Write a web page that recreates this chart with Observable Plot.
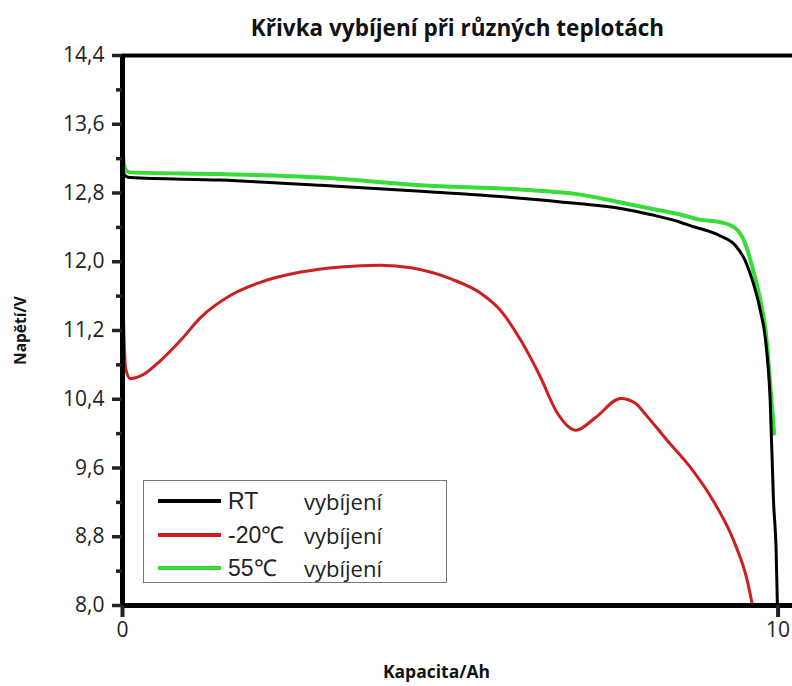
<!DOCTYPE html>
<html>
<head>
<meta charset="utf-8">
<script src="https://cdn.jsdelivr.net/npm/d3@7"></script>
<script src="https://cdn.jsdelivr.net/npm/@observablehq/plot@0.6"></script>
<style>
  html, body { margin: 0; padding: 0; background: white; }
  #wrap { position: relative; width: 792px; height: 686px; overflow: hidden; }
  .leg { position: absolute; left: 143px; top: 480px; width: 304px; height: 103px; border: 1px solid #777; background: white; box-sizing: border-box; }
  .lrow { position: absolute; left: 0; height: 30px; }
  .lline { position: absolute; left: 14px; width: 63px; height: 4px; top: 13px; }
  .lname { position: absolute; left: 84px; top: 0; font-family: "Liberation Sans", Arial, sans-serif; font-size: 23px; line-height: 30px; color: #222; white-space: nowrap; }
  .ltext { position: absolute; left: 160px; top: 0; font-family: "Open Sans", sans-serif; font-size: 22px; line-height: 30px; color: #222; white-space: nowrap; }
</style>
</head>
<body>
<div id="wrap"></div>
<script>
// ---- data ----
const capRT  = [0, 0.02, 0.06, 0.12, 1.49, 3.02, 4.55, 6.07, 6.91, 7.60, 8.05, 8.51, 8.66, 9.12, 9.35, 9.50, 9.61, 9.73, 9.81, 9.88, 9.93, 9.97, 9.99];
const voltRT = [13.12, 13.03, 12.99, 12.98, 12.95, 12.89, 12.82, 12.74, 12.68, 12.62, 12.55, 12.46, 12.42, 12.30, 12.19, 12.01, 11.78, 11.43, 11.08, 10.38, 9.22, 8.64, 8.0];

const capM20  = [0, 0.02, 0.05, 0.12, 0.3, 0.58, 0.88, 1.19, 1.65, 2.10, 2.72, 3.33, 3.94, 4.40, 5.01, 5.47, 5.77, 6.08, 6.38, 6.61, 6.92, 7.22, 7.60, 7.83, 7.95, 8.31, 8.66, 9.01, 9.32, 9.53, 9.61];
const voltM20 = [11.78, 11.2, 10.75, 10.64, 10.68, 10.85, 11.08, 11.35, 11.61, 11.76, 11.88, 11.94, 11.96, 11.93, 11.80, 11.63, 11.43, 11.08, 10.65, 10.27, 10.04, 10.19, 10.41, 10.35, 10.25, 9.92, 9.61, 9.22, 8.76, 8.29, 8.0];

const cap55  = [0, 0.02, 0.06, 0.12, 1.49, 3.02, 4.55, 6.07, 6.91, 7.60, 8.05, 8.51, 8.80, 9.12, 9.35, 9.50, 9.61, 9.73, 9.81, 9.88, 9.94];
const volt55 = [13.35, 13.15, 13.06, 13.04, 13.02, 12.98, 12.89, 12.84, 12.79, 12.69, 12.62, 12.55, 12.49, 12.46, 12.39, 12.21, 11.93, 11.55, 11.2, 10.58, 10.0];

const seriesNames = ["RT", "-20℃", "55℃"];
const seriesColors = ["#000000", "#cc1f1f", "#38dc38"];
const legendSuffix = "vybíjení";

const yMajor = [8.0, 8.8, 9.6, 10.4, 11.2, 12.0, 12.8, 13.6, 14.4];
const yMinor = [8.4, 9.2, 10.0, 10.8, 11.6, 12.4, 13.2, 14.0];
const xTicks = [0, 10];

const title = "Křivka vybíjení při různých teplotách";
const xLabel = "Kapacita/Ah";
const yLabel = "Napětí/V";

const toRows = (xs, ys) => xs.map((x, i) => ({x, y: ys[i]}));
const rt = toRows(capRT, voltRT);
const m20 = toRows(capM20, voltM20);
const h55 = toRows(cap55, volt55);

const fmt = d => d.toFixed(1).replace(".", ",");

const plot = Plot.plot({
  width: 792,
  height: 686,
  marginLeft: 122,
  marginRight: 0,
  marginTop: 55,
  marginBottom: 81,
  x: {domain: [0, 10.22]},
  y: {domain: [8, 14.4]},
  style: {fontFamily: "Open Sans, sans-serif", background: "white", color: "#222"},
  marks: [
    Plot.line(m20, {x: "x", y: "y", stroke: seriesColors[1], strokeWidth: 3, curve: "monotone-x", clip: true}),
    Plot.line(h55, {x: "x", y: "y", stroke: seriesColors[2], strokeWidth: 4, curve: "monotone-x", clip: true}),
    Plot.line(rt, {x: "x", y: "y", stroke: seriesColors[0], strokeWidth: 3, curve: "monotone-x", clip: true}),
    Plot.ruleY([14.4], {stroke: "#000", strokeWidth: 4}),
    Plot.ruleY([8], {stroke: "#000", strokeWidth: 5}),
    Plot.ruleX([0], {stroke: "#000", strokeWidth: 5}),
    Plot.axisY({ticks: yMajor, tickSize: 10, tickPadding: 8, tickFormat: fmt, fontSize: 21, strokeWidth: 3.5, label: null}),
    Plot.axisY({ticks: yMinor, tickSize: 6, tickFormat: () => "", strokeWidth: 3.5, label: null}),
    Plot.axisX({ticks: xTicks, tickSize: 12, tickPadding: 5, fontSize: 21, strokeWidth: 4, label: null}),
    Plot.text([title], {frameAnchor: "top", lineAnchor: "middle", dy: -27, fontSize: 22.5, fontWeight: "bold", fill: "#111"}),
    Plot.text([xLabel], {frameAnchor: "bottom", lineAnchor: "middle", dx: -21, dy: 67, fontSize: 17.5, fontWeight: "bold", fill: "#111"}),
    Plot.text([yLabel], {frameAnchor: "left", textAnchor: "middle", lineAnchor: "middle", dx: -101, rotate: -90, fontSize: 15.5, fontWeight: "bold", fill: "#111"})
  ]
});

const wrap = document.getElementById("wrap");
wrap.appendChild(plot);

const leg = document.createElement("div");
leg.className = "leg";
const rowTops = [5, 39, 72];
seriesNames.forEach((name, i) => {
  const row = document.createElement("div");
  row.className = "lrow";
  row.style.top = rowTops[i] + "px";
  row.innerHTML = `<div class="lline" style="background:${seriesColors[i]}"></div><span class="lname">${name}</span><span class="ltext">${legendSuffix}</span>`;
  leg.appendChild(row);
});
wrap.appendChild(leg);
</script>
</body>
</html>
